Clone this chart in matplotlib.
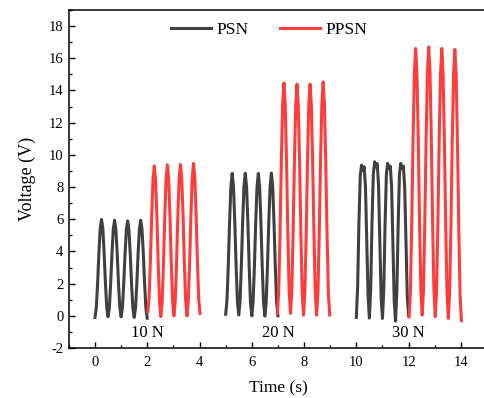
import numpy as np
import matplotlib
matplotlib.use("Agg")
import matplotlib.pyplot as plt
from matplotlib.ticker import MultipleLocator

plt.rcParams['font.family'] = ['Liberation Serif', 'DejaVu Serif']
plt.rcParams['axes.unicode_minus'] = False

# sampling step of the digitised waveforms (s)
step = 0.05

# ---- PSN (10 N, 20 N, 30 N) ----
psn10_t0 = 0.0
psn10_v = [-0.10, 0.48, 2.00, 3.89, 5.41, 5.99, 5.42, 3.90, 2.03, 0.51, -0.06,
           0.51, 2.01, 3.87, 5.37, 5.94, 5.37, 3.87, 2.01, 0.51, -0.06,
           0.51, 2.00, 3.84, 5.33, 5.90, 5.33, 3.83, 1.97, 0.47, -0.10,
           0.47, 1.98, 3.86, 5.37, 5.94, 5.36, 3.84, 1.95, 0.43, -0.15]

psn20_t0 = 5.0
psn20_v = [0.10, 0.93, 3.12, 5.83, 8.02, 8.85, 8.01, 5.81, 3.09, 0.89, 0.05,
           0.89, 3.09, 5.82, 8.02, 8.86, 8.02, 5.80, 3.06, 0.84, 0.00,
           0.84, 3.05, 5.79, 8.00, 8.84, 8.00, 5.78, 3.04, 0.82, -0.02,
           0.82, 3.05, 5.80, 8.03, 8.87, 8.03, 5.81, 3.06, 0.84, 0.00]

psn30_t0 = 10.0
psn30_v = [-0.10, 1.80, 5.80, 8.70, 9.36, 9.05, 9.26, 8.00, 4.60, 1.20, -0.14,
           1.70, 5.80, 8.80, 9.57, 9.25, 9.45, 8.10, 4.60, 1.10, -0.16,
           1.60, 5.70, 8.80, 9.47, 9.15, 9.30, 8.00, 4.50, 0.90, -0.33,
           1.50, 5.60, 8.80, 9.47, 9.15, 9.30, 8.00, 4.60, 1.20, 0.00]

# ---- PPSN (10 N, 20 N, 30 N) ----
ppsn10_t0 = 2.02
ppsn10_v = [0.25, 1.11, 3.38, 6.19, 8.46, 9.32, 8.43, 6.09, 3.18, 0.84, -0.05,
            0.85, 3.20, 6.13, 8.48, 9.38, 8.49, 6.14, 3.24, 0.89, 0.00,
            0.89, 3.24, 6.16, 8.51, 9.40, 8.51, 6.16, 3.24, 0.89, 0.00,
            0.90, 3.27, 6.20, 8.57, 9.47, 8.59, 6.25, 3.37, 1.04, 0.15]

ppsn20_t0 = 6.98
ppsn20_v = [0.15, 1.51, 5.09, 9.53, 13.11, 14.47, 13.11, 9.53, 5.09, 1.51, 0.15,
            1.50, 5.06, 9.48, 13.04, 14.39, 13.03, 9.44, 4.99, 1.40, 0.04,
            1.40, 4.99, 9.44, 13.03, 14.39, 13.03, 9.44, 4.99, 1.40, 0.04,
            1.42, 5.04, 9.53, 13.15, 14.53, 13.15, 9.53, 5.05, 1.43, 0.05]

ppsn30_t0 = 12.02
ppsn30_v = [-0.06, 1.52, 5.69, 10.86, 15.03, 16.61, 15.04, 10.89, 5.76, 1.61, 0.04,
            1.62, 5.79, 10.96, 15.13, 16.71, 15.12, 10.92, 5.73, 1.53, -0.06,
            1.52, 5.69, 10.86, 15.03, 16.61, 15.02, 10.82, 5.63, 1.43, -0.16,
            1.43, 5.60, 10.79, 14.96, 16.55, 14.95, 10.73, 5.51, 1.29, -0.31]

force_labels = ["10 N", "20 N", "30 N"]
force_label_x = [2.0, 7.0, 12.0]
force_label_y = -1.05

series_names = ["PSN", "PPSN"]
psn_color = "#404040"
ppsn_color = "#ff3c3c"

x_ticks = [0, 2, 4, 6, 8, 10, 12, 14]
y_ticks = [-2, 0, 2, 4, 6, 8, 10, 12, 14, 16, 18]

fig = plt.figure(figsize=(4.84, 3.98), dpi=100)
ax = fig.add_axes([68.85 / 484, 50 / 398, (487 - 68.85) / 484, 338 / 398])


def times(t0, v):
    return t0 + step * np.arange(len(v))


lw = 2.2
first = True
for t0, v in [(psn10_t0, psn10_v), (psn20_t0, psn20_v), (psn30_t0, psn30_v)]:
    ax.plot(times(t0, v), v, color=psn_color, lw=lw, solid_joinstyle='round',
            label=series_names[0] if first else None)
    first = False
first = True
for t0, v in [(ppsn10_t0, ppsn10_v), (ppsn20_t0, ppsn20_v), (ppsn30_t0, ppsn30_v)]:
    ax.plot(times(t0, v), v, color=ppsn_color, lw=lw, solid_joinstyle='round',
            label=series_names[1] if first else None)
    first = False

for lab, x in zip(force_labels, force_label_x):
    ax.text(x, force_label_y, lab, ha='center', va='center', fontsize=12)

ax.set_xlim(-1, 15)
ax.set_ylim(-2, 19)
ax.set_xticks(x_ticks)
ax.set_yticks(y_ticks)
ax.xaxis.set_minor_locator(MultipleLocator(1))
ax.yaxis.set_minor_locator(MultipleLocator(1))
ax.tick_params(which='major', direction='in', length=4, width=1.0, labelsize=10.5,
               top=False, right=False)
ax.tick_params(axis='y', which='major', pad=4)
ax.tick_params(axis='x', which='major', pad=6)
ax.tick_params(which='minor', direction='in', length=2.2, width=1.0, top=False, right=False)
for s in ax.spines.values():
    s.set_linewidth(1.1)

ax.set_xlabel("Time (s)", fontsize=12.5, labelpad=8)
ax.set_ylabel("Voltage (V)", fontsize=13, labelpad=9)

ax.legend(loc='upper center', bbox_to_anchor=(0.479, 1.0), ncol=2, frameon=False,
          fontsize=12.5, handlelength=2.3, columnspacing=1.8, handletextpad=0.3,
          borderaxespad=0.3)

fig.savefig("out.png", dpi=100)
